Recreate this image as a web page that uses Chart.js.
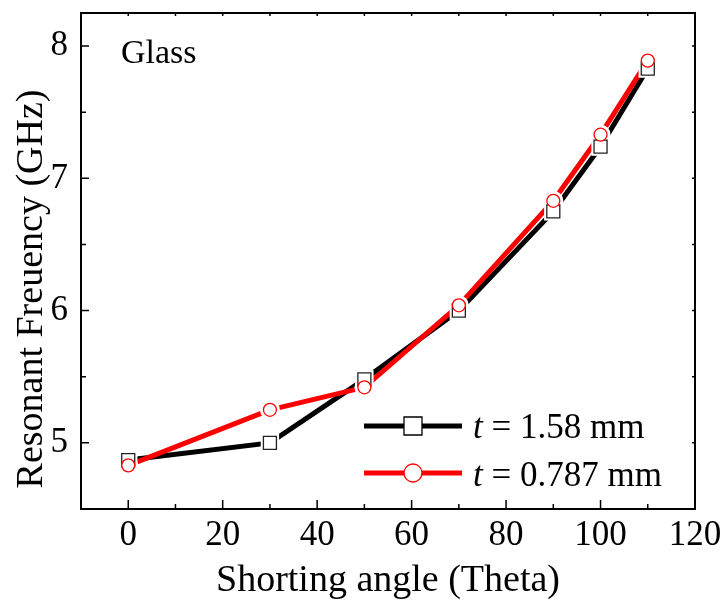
<!DOCTYPE html>
<html>
<head>
<meta charset="utf-8">
<script src="https://cdn.jsdelivr.net/npm/chart.js@4.4.1/dist/chart.umd.min.js"></script>
<style>
  html, body { margin: 0; padding: 0; background: #fff; }
  #wrap { width: 726px; height: 601px; position: relative; }
</style>
</head>
<body>
<div id="wrap"><canvas id="c"></canvas></div>
<script>
// ---- data ----
const angles = [0, 30, 50, 70, 90, 100, 110];
const freqThick = [4.87, 5.00, 5.48, 6.00, 6.75, 7.24, 7.83];   // t = 1.58 mm
const freqThin  = [4.83, 5.25, 5.42, 6.04, 6.83, 7.33, 7.89];   // t = 0.787 mm
const seriesValues = ['1.58', '0.787'];
const xTickValues = [0, 20, 40, 60, 80, 100, 120];
const xMinorValues = [-10, 10, 30, 50, 70, 90, 110];
const yTickValues = [5, 6, 7, 8];
const yMinorValues = [4.5, 5.5, 6.5, 7.5];
const xTitle = 'Shorting angle (Theta)';
const yTitle = 'Resonant Freuency (GHz)';
const panelLabel = 'Glass';

const FONT = '"Liberation Serif", "DejaVu Serif", "Times New Roman", serif';
const BLACK = '#000000';
const RED = '#ff0000';

const pts = arr => angles.map((a, i) => ({ x: a, y: arr[i] }));

const lineDs = (data, color, order) => ({
  data, order, borderColor: color, borderWidth: 5, pointRadius: 0,
  showLine: true, fill: false, tension: 0
});
const haloDs = (data, style, r, order) => ({
  data, order, showLine: false, pointStyle: style, pointRadius: r,
  pointBackgroundColor: '#fff', pointBorderColor: '#fff', pointBorderWidth: 0
});
const markDs = (data, style, r, color, order) => ({
  data, order, showLine: false, pointStyle: style, pointRadius: r,
  pointBackgroundColor: '#fff', pointBorderColor: color, pointBorderWidth: 1.3
});

const decor = {
  id: 'decor',
  afterDraw(chart) {
    const { ctx, chartArea: a, scales: { x, y } } = chart;
    ctx.save();
    ctx.strokeStyle = '#000';
    ctx.lineWidth = 1.5;
    ctx.beginPath();
    xTickValues.forEach(v => {
      const px = x.getPixelForValue(v);
      ctx.moveTo(px, a.bottom); ctx.lineTo(px, a.bottom - 9);
      ctx.moveTo(px, a.top); ctx.lineTo(px, a.top + 3);
    });
    xMinorValues.forEach(v => {
      const px = x.getPixelForValue(v);
      ctx.moveTo(px, a.bottom); ctx.lineTo(px, a.bottom - 5);
      ctx.moveTo(px, a.top); ctx.lineTo(px, a.top + 3);
    });
    yTickValues.forEach(v => {
      const py = y.getPixelForValue(v);
      ctx.moveTo(a.left, py); ctx.lineTo(a.left + 8, py);
      ctx.moveTo(a.right, py); ctx.lineTo(a.right - 3, py);
    });
    yMinorValues.forEach(v => {
      const py = y.getPixelForValue(v);
      ctx.moveTo(a.left, py); ctx.lineTo(a.left + 5, py);
      ctx.moveTo(a.right, py); ctx.lineTo(a.right - 3, py);
    });
    ctx.stroke();
    ctx.lineWidth = 2;
    ctx.strokeRect(a.left, a.top, a.right - a.left, a.bottom - a.top);

    ctx.fillStyle = '#000';
    ctx.font = '38px ' + FONT;
    ctx.textAlign = 'center';
    ctx.textBaseline = 'alphabetic';
    ctx.fillText(xTitle, (a.left + a.right) / 2, 591);
    ctx.save();
    ctx.translate(42, 289);
    ctx.rotate(-Math.PI / 2);
    ctx.fillText(yTitle, 0, 0);
    ctx.restore();
    ctx.font = '34px ' + FONT;
    ctx.textAlign = 'left';
    ctx.fillText(panelLabel, 121, 63);

    const entries = [
      { color: BLACK, style: 'rect', val: seriesValues[0], ly: 426, by: 438 },
      { color: RED, style: 'circle', val: seriesValues[1], ly: 473, by: 486 }
    ];
    entries.forEach(e => {
      ctx.strokeStyle = e.color;
      ctx.lineWidth = 5;
      ctx.beginPath();
      ctx.moveTo(364, e.ly); ctx.lineTo(462, e.ly);
      ctx.stroke();
      ctx.fillStyle = '#fff';
      ctx.strokeStyle = e.color;
      ctx.lineWidth = 1.3;
      ctx.beginPath();
      if (e.style === 'rect') ctx.rect(404, e.ly - 9, 18, 18);
      else ctx.arc(413, e.ly, 9, 0, Math.PI * 2);
      ctx.fill(); ctx.stroke();
      ctx.fillStyle = '#000';
      ctx.font = 'italic 35px ' + FONT;
      ctx.fillText('t', 473, e.by);
      const tw = ctx.measureText('t').width;
      ctx.font = '35px ' + FONT;
      ctx.fillText(' = ' + e.val + ' mm', 473 + tw, e.by);
    });
    ctx.restore();
  }
};

new Chart(document.getElementById('c'), {
  type: 'scatter',
  data: {
    datasets: [
      lineDs(pts(freqThick), BLACK, 6),
      lineDs(pts(freqThin), RED, 5),
      haloDs(pts(freqThick), 'rect', 13, 4),
      haloDs(pts(freqThin), 'circle', 10, 3),
      markDs(pts(freqThick), 'rect', 9.2, '#222', 2),
      markDs(pts(freqThin), 'circle', 6.5, RED, 1)
    ]
  },
  options: {
    responsive: true,
    maintainAspectRatio: false,
    animation: false,
    events: [],
    layout: { padding: { left: 0, right: 31, top: 12, bottom: 0 } },
    plugins: { legend: { display: false }, tooltip: { enabled: false } },
    scales: {
      x: {
        type: 'linear', min: -10, max: 120,
        grid: { display: false, drawTicks: false },
        border: { display: false },
        ticks: { color: '#000', font: { family: FONT, size: 35 }, padding: 6, maxRotation: 0 },
        afterBuildTicks: s => { s.ticks = xTickValues.map(v => ({ value: v })); },
        afterFit: s => { s.height = 92; s.paddingLeft = 0; s.paddingRight = 0; }
      },
      y: {
        type: 'linear', min: 4.5, max: 8.25,
        grid: { display: false, drawTicks: false },
        border: { display: false },
        ticks: { color: '#000', font: { family: FONT, size: 35 }, padding: 13 },
        afterBuildTicks: s => { s.ticks = yTickValues.map(v => ({ value: v })); },
        afterFit: s => { s.width = 81; s.paddingTop = 0; s.paddingBottom = 0; }
      }
    }
  },
  plugins: [decor]
});
</script>
</body>
</html>
